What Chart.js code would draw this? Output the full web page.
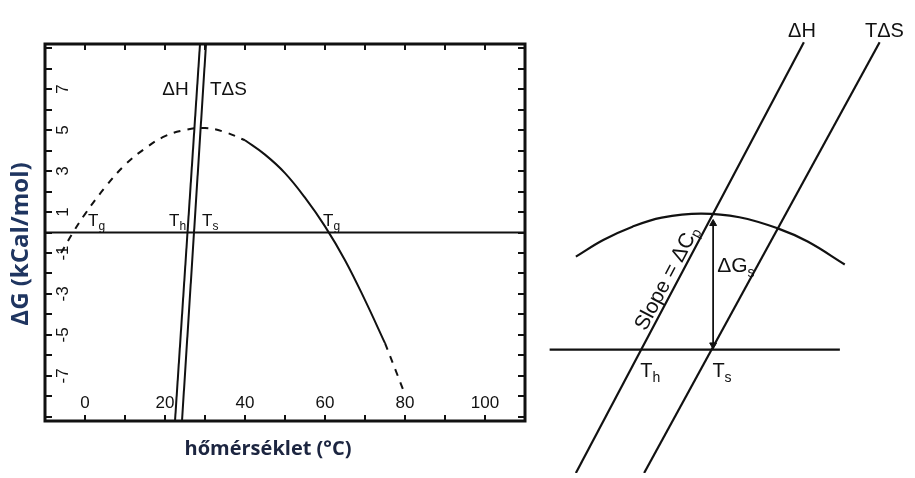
<!DOCTYPE html>
<html>
<head>
<meta charset="utf-8">
<script src="https://cdn.jsdelivr.net/npm/chart.js@4.4.0/dist/chart.umd.min.js"></script>
<style>
  html, body { margin: 0; padding: 0; background: #fff; }
  #wrap { position: relative; width: 915px; height: 478px; overflow: hidden; background: #fff; }
  #left { position: absolute; left: 0; top: 0; }
  #right { position: absolute; left: 530px; top: 0; }
</style>
</head>
<body>
<div id="wrap">
  <canvas id="left" width="530" height="478"></canvas>
  <canvas id="right" width="385" height="478"></canvas>
</div>
<script>
// ---------- left panel: ΔG against temperature ----------
const tempTickLabels = [0, 20, 40, 60, 80, 100];
const gTickLabels = [-7, -5, -3, -1, 1, 3, 5, 7];

// ΔG curve in three pieces: dashed, solid, dashed
const gTempDashA = [-6, -3, 0, 5, 10, 15, 20, 25, 30, 35, 40];
const gValDashA  = [-1.0, 0.0, 0.9, 2.2, 3.3, 4.1, 4.7, 5.0, 5.1, 4.9, 4.5];
const gTempSolid = [40, 45, 50, 55, 60, 65, 70, 75];
const gValSolid  = [4.5, 3.8, 2.9, 1.7, 0.3, -1.35, -3.3, -5.4];
const gTempDashB = [75, 80];
const gValDashB  = [-5.4, -7.9];

// ΔH and TΔS lines: temperature where each meets the bottom and top of the frame
const lineEndsG = [-9.2, 9.2];
const dhTemp  = [22.5, 28.75];
const tdsTemp = [24.25, 30.25];

// zero line
const zeroTemp = [-10, 110];
const zeroVal  = [0, 0];

// ---------- right panel: schematic near the maximum ----------
const schemDhX  = [10.9, 71.7];
const schemDhY  = [-3.15, 7.85];
const schemTdsX = [29.1, 91.9];
const schemTdsY = [-3.15, 7.85];
const schemBaseX = [3.9, 81.3];
const schemBaseY = [0, 0];
const schemArcX = [10.9, 18.2, 26.0, 33.8, 44.2, 54.5, 64.9, 72.7, 82.6];
const schemArcY = [2.375, 2.8, 3.14, 3.37, 3.475, 3.38, 3.09, 2.76, 2.175];
const schemArrowX = [47.5, 47.5];
const schemArrowY = [0.12, 3.22];

const INK = '#111';
const SANS = '"Liberation Sans", Arial, sans-serif';
const TITLE_FONT = '"Open Sans", sans-serif';

const pts = (xs, ys) => xs.map((v, i) => ({ x: v, y: ys[i] }));

function subText(ctx, main, sub, x, y, size, align) {
  ctx.font = size + 'px ' + SANS;
  const w1 = ctx.measureText(main).width;
  const subSize = Math.round(size * 0.68);
  ctx.font = subSize + 'px ' + SANS;
  const w2 = ctx.measureText(sub).width;
  let x0 = x;
  if (align === 'center') x0 = x - (w1 + w2) / 2;
  ctx.textAlign = 'left';
  ctx.textBaseline = 'alphabetic';
  ctx.font = size + 'px ' + SANS;
  ctx.fillText(main, x0, y);
  ctx.font = subSize + 'px ' + SANS;
  ctx.fillText(sub, x0 + w1, y + size * 0.22);
}

// frame, inward ticks, labels and titles of the left panel
const leftDecor = {
  id: 'leftDecor',
  afterDatasetsDraw(chart) {
    const { ctx, chartArea: a, scales: { x, y } } = chart;
    ctx.save();
    ctx.strokeStyle = INK;
    ctx.fillStyle = INK;
    ctx.lineCap = 'butt';

    // ticks
    ctx.lineWidth = 2;
    for (let t = -10; t <= 110; t += 10) {
      const px = Math.round(x.getPixelForValue(t));
      ctx.beginPath();
      ctx.moveTo(px, a.bottom); ctx.lineTo(px, a.bottom - 6);
      ctx.moveTo(px, a.top); ctx.lineTo(px, a.top + 6);
      ctx.stroke();
    }
    for (let g = -9; g <= 9; g++) {
      const py = Math.round(y.getPixelForValue(g));
      ctx.beginPath();
      ctx.moveTo(a.left, py); ctx.lineTo(a.left + 7, py);
      ctx.moveTo(a.right, py); ctx.lineTo(a.right - 7, py);
      ctx.stroke();
    }

    // frame
    ctx.lineWidth = 3;
    ctx.strokeRect(a.left, a.top, a.right - a.left, a.bottom - a.top);

    // tick labels (inside the frame)
    ctx.font = '17px ' + SANS;
    ctx.textAlign = 'center';
    ctx.textBaseline = 'middle';
    tempTickLabels.forEach(t => {
      ctx.fillText(String(t), x.getPixelForValue(t), a.bottom - 18);
    });
    gTickLabels.forEach(g => {
      ctx.save();
      ctx.translate(a.left + 18, y.getPixelForValue(g));
      ctx.rotate(-Math.PI / 2);
      ctx.fillText(String(g), 0, 0);
      ctx.restore();
    });

    // curve labels
    ctx.font = '19px ' + SANS;
    ctx.textAlign = 'left';
    ctx.textBaseline = 'alphabetic';
    ctx.fillText('ΔH', x.getPixelForValue(19.3), y.getPixelForValue(6.7));
    ctx.fillText('TΔS', x.getPixelForValue(31.25), y.getPixelForValue(6.7));
    subText(ctx, 'T', 'g', x.getPixelForValue(0.75), y.getPixelForValue(0.3), 17);
    subText(ctx, 'T', 'h', x.getPixelForValue(21.0), y.getPixelForValue(0.3), 17);
    subText(ctx, 'T', 's', x.getPixelForValue(29.25), y.getPixelForValue(0.3), 17);
    subText(ctx, 'T', 'g', x.getPixelForValue(59.5), y.getPixelForValue(0.3), 17);

    // axis titles
    ctx.fillStyle = '#1c2540';
    ctx.font = 'bold 20px ' + TITLE_FONT;
    ctx.textAlign = 'center';
    ctx.textBaseline = 'middle';
    ctx.fillText('hőmérséklet (°C)', 268, 449);
    ctx.save();
    ctx.fillStyle = '#1f3560';
    ctx.font = 'bold 24px ' + TITLE_FONT;
    ctx.translate(21, 244);
    ctx.rotate(-Math.PI / 2);
    ctx.fillText('ΔG (kCal/mol)', 0, 0);
    ctx.restore();

    ctx.restore();
  }
};

const lineStyle = { borderColor: INK, borderWidth: 2, pointRadius: 0, fill: false };

new Chart(document.getElementById('left'), {
  type: 'scatter',
  data: {
    datasets: [
      { ...lineStyle, data: pts(zeroTemp, zeroVal), showLine: true },
      { ...lineStyle, data: pts(dhTemp, lineEndsG), showLine: true },
      { ...lineStyle, data: pts(tdsTemp, lineEndsG), showLine: true },
      { ...lineStyle, data: pts(gTempDashA, gValDashA), showLine: true, tension: 0.4, borderDash: [7, 7] },
      { ...lineStyle, data: pts(gTempSolid, gValSolid), showLine: true, tension: 0.4 },
      { ...lineStyle, data: pts(gTempDashB, gValDashB), showLine: true, borderDash: [7, 7] }
    ]
  },
  options: {
    responsive: false,
    animation: false,
    devicePixelRatio: 1,
    layout: { padding: { left: 45, top: 44, right: 5, bottom: 57 } },
    plugins: { legend: { display: false }, tooltip: { enabled: false } },
    scales: {
      x: { type: 'linear', min: -10, max: 110, display: false },
      y: { type: 'linear', min: -9.2, max: 9.2, display: false }
    }
  },
  plugins: [leftDecor]
});

// labels of the schematic panel
const rightDecor = {
  id: 'rightDecor',
  afterDatasetsDraw(chart) {
    const { ctx, scales: { x, y } } = chart;
    ctx.save();
    ctx.fillStyle = INK;
    ctx.font = '20px ' + SANS;
    ctx.textAlign = 'center';
    ctx.textBaseline = 'alphabetic';
    ctx.fillText('ΔH', x.getPixelForValue(71.2), y.getPixelForValue(7.98));
    ctx.fillText('TΔS', x.getPixelForValue(93.2), y.getPixelForValue(7.98));

    subText(ctx, 'ΔG', 's', x.getPixelForValue(48.6), y.getPixelForValue(2.175) + 8, 21);
    subText(ctx, 'T', 'h', x.getPixelForValue(28.05), y.getPixelForValue(-0.325) + 15, 20);
    subText(ctx, 'T', 's', x.getPixelForValue(47.3), y.getPixelForValue(-0.325) + 15, 20);

    // slope label running along the ΔH line
    const x0 = x.getPixelForValue(schemDhX[0]), y0 = y.getPixelForValue(schemDhY[0]);
    const x1 = x.getPixelForValue(schemDhX[1]), y1 = y.getPixelForValue(schemDhY[1]);
    const ang = Math.atan2(y1 - y0, x1 - x0);
    const ax = x.getPixelForValue(37.6), ay = y.getPixelForValue(1.7);
    ctx.save();
    ctx.translate(ax, ay);
    ctx.rotate(ang);
    ctx.translate(0, -4);
    ctx.font = '21px ' + SANS;
    const w1 = ctx.measureText('Slope = ΔC').width;
    ctx.font = '14px ' + SANS;
    const w2 = ctx.measureText('p').width;
    ctx.textAlign = 'left';
    ctx.font = '21px ' + SANS;
    ctx.fillText('Slope = ΔC', -(w1 + w2) / 2, 0);
    ctx.font = '14px ' + SANS;
    ctx.fillText('p', -(w1 + w2) / 2 + w1, 3);
    ctx.restore();

    ctx.restore();
  }
};

const schemStyle = { borderColor: INK, borderWidth: 2.2, pointRadius: 0, fill: false, showLine: true };

new Chart(document.getElementById('right'), {
  type: 'scatter',
  data: {
    datasets: [
      { ...schemStyle, data: pts(schemDhX, schemDhY) },
      { ...schemStyle, data: pts(schemTdsX, schemTdsY) },
      { ...schemStyle, data: pts(schemBaseX, schemBaseY) },
      { ...schemStyle, data: pts(schemArcX, schemArcY), tension: 0.4 },
      { ...schemStyle, borderWidth: 1.8, data: pts(schemArrowX, schemArrowY),
        pointStyle: 'triangle', pointRadius: 4, pointRotation: [180, 0],
        pointBackgroundColor: INK, pointBorderColor: INK, pointBorderWidth: 1 }
    ]
  },
  options: {
    responsive: false,
    animation: false,
    devicePixelRatio: 1,
    layout: { padding: 0 },
    plugins: { legend: { display: false }, tooltip: { enabled: false } },
    scales: {
      x: { type: 'linear', min: 0, max: 100, display: false },
      y: { type: 'linear', min: -3.15, max: 8.8, display: false }
    }
  },
  plugins: [rightDecor]
});
</script>
</body>
</html>
